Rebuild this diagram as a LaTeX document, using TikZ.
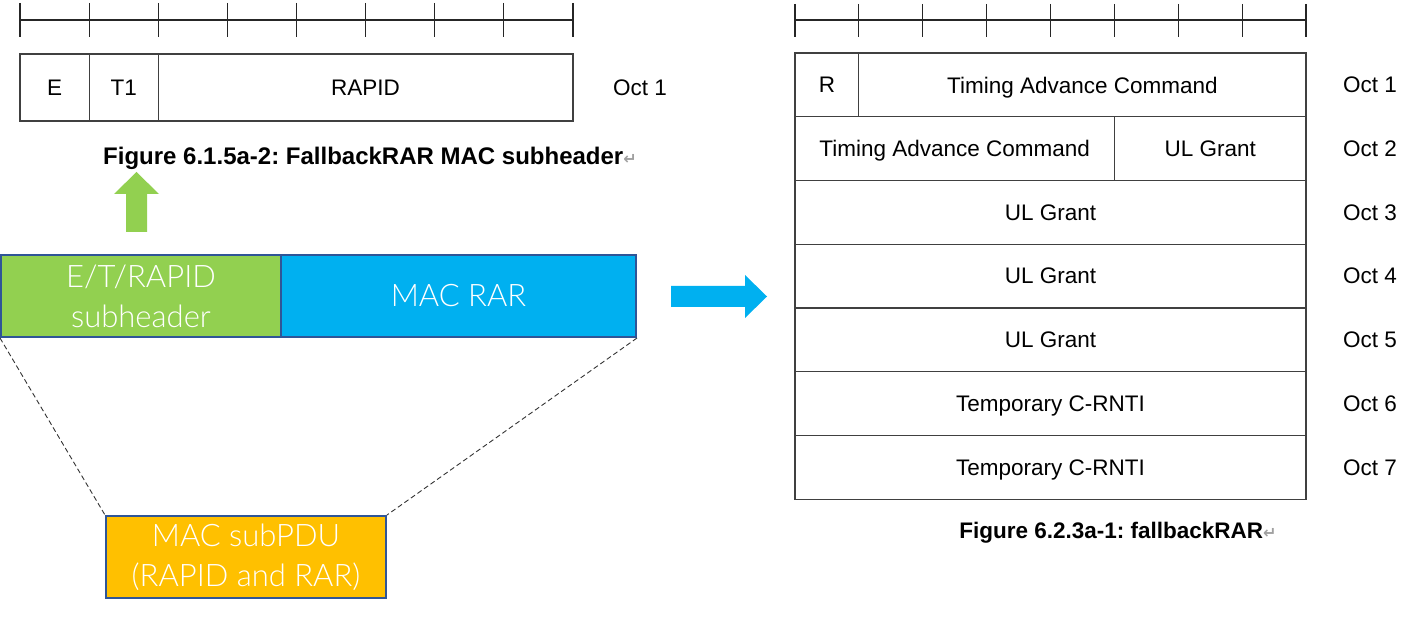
\documentclass[tikz,border=0pt]{standalone}
\usepackage{fontspec}
\setmainfont{Liberation Sans}
\newfontfamily\lightfont{Lato Light}
\newfontfamily\symfont{DejaVu Sans}
\usetikzlibrary{positioning}
\definecolor{gridline}{HTML}{404040}
\definecolor{boxborder}{HTML}{2F5597}
\definecolor{greenfill}{HTML}{92D050}
\definecolor{bluefill}{HTML}{00B0F0}
\definecolor{orangefill}{HTML}{FFC000}
\definecolor{retgray}{HTML}{A0A0A0}
\tikzset{
  cell/.style={draw=gridline, line width=1.1pt, rectangle, inner sep=0pt,
    font=\fontsize{22.5}{26}\selectfont, text=black, text depth=0pt},
  octlabel/.style={anchor=west, inner sep=0pt, font=\fontsize{22.5}{26}\selectfont},
  caption/.style={inner sep=0pt, font=\bfseries\fontsize{24}{28}\selectfont},
  colbox/.style={draw=boxborder, line width=2pt, rectangle, inner sep=0pt,
    text=white, align=center, font=\lightfont\fontsize{31}{40}\selectfont},
  ruler/.style={draw=black!85, line width=1.2pt},
  zoomline/.style={draw=black!80, line width=0.9pt, dash pattern=on 5pt off 3pt},
}
\newcommand{\retmark}{\textcolor{retgray}{\symfont\fontsize{16}{16}\selectfont ↵}}
\begin{document}
\frenchspacing
\begin{tikzpicture}[x=1pt,y=-1pt]
\useasboundingbox (0,0) rectangle (1404,617);
% ---------- left ruler ----------
\draw[ruler] (20,20) -- (573,20);
\foreach \i in {0,...,8} {
  \draw[ruler] ({20+\i*69.125},3) -- ({20+\i*69.125},37);
}
% ---------- left subheader ----------
\node[cell, minimum width=69.125pt, minimum height=67pt] (e) at (54.56,87.5) {E};
\node[cell, minimum width=69.125pt, minimum height=67pt] (t1) at (123.69,87.5) {T1};
\node[cell, minimum width=414.75pt, minimum height=67pt] (rapid) at (365.6,87.5) {RAPID};
\node[octlabel] (loct1) at (613,88) {Oct 1};
\node[caption] (lcap) at (370,158) {Figure 6.1.5a-2: FallbackRAR MAC subheader\retmark};
% ---------- green arrow ----------
\fill[greenfill] (126,232) -- (126,194) -- (114,194) -- (136.5,172) -- (159,194) -- (147,194) -- (147,232) -- cycle;
% ---------- MAC subPDU ----------
\node[colbox, fill=greenfill, minimum width=280pt, minimum height=82pt] (sub) at (141,296) {E/T/RAPID\\subheader};
\node[colbox, fill=bluefill, minimum width=355pt, minimum height=82pt] (rar) at (458.5,296) {MAC RAR};
\node[colbox, fill=orangefill, minimum width=280pt, minimum height=82pt] (pdu) at (246,557) {MAC subPDU\\(RAPID and RAR)};
\draw[zoomline] (sub.south west) -- (pdu.north west);
\draw[zoomline] (rar.south east) -- (pdu.north east);
% ---------- blue arrow ----------
\fill[bluefill] (671,286) -- (745,286) -- (745,275) -- (767,296.5) -- (745,318) -- (745,307) -- (671,307) -- cycle;
% ---------- right ruler ----------
\draw[ruler] (795,20) -- (1306,20);
\foreach \i in {0,...,8} {
  \draw[ruler] ({795+\i*63.875},4) -- ({795+\i*63.875},37);
}
% ---------- right table ----------
\node[cell, minimum width=63.875pt, minimum height=63.75pt] (r) at (826.94,84.9) {R};
\node[cell, minimum width=447.125pt, minimum height=63.75pt] (tac1) at (1082.44,84.9) {Timing Advance Command};
\node[cell, minimum width=319.375pt, minimum height=63.75pt] (tac2) at (954.69,148.6) {Timing Advance Command};
\node[cell, minimum width=191.625pt, minimum height=63.75pt] (ul1) at (1210.19,148.6) {UL Grant};
\node[cell, minimum width=511pt, minimum height=63.75pt] (ul2) at (1050.5,212.4) {UL Grant};
\node[cell, minimum width=511pt, minimum height=63.75pt] (ul3) at (1050.5,276.1) {UL Grant};
\node[cell, minimum width=511pt, minimum height=63.75pt] (ul4) at (1050.5,339.9) {UL Grant};
\node[cell, minimum width=511pt, minimum height=63.75pt] (tc1) at (1050.5,403.6) {Temporary C-RNTI};
\node[cell, minimum width=511pt, minimum height=63.75pt] (tc2) at (1050.5,467.4) {Temporary C-RNTI};
\foreach \n/\y in {1/84.9,2/148.6,3/212.4,4/276.1,5/339.9,6/403.6,7/467.4} {
  \node[octlabel] (roct\n) at (1343,\y) {Oct \n};
}
\node[caption, font=\bfseries\fontsize{22.5}{26}\selectfont] (rcap) at (1118,533) {Figure 6.2.3a-1: fallbackRAR\retmark};
\end{tikzpicture}
\end{document}
